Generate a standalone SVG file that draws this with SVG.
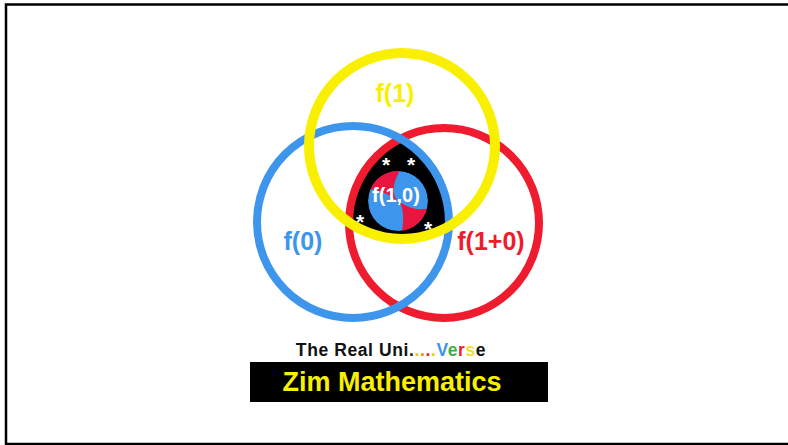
<svg xmlns="http://www.w3.org/2000/svg" width="788" height="445" viewBox="0 0 788 445">
<style>
.lbl{font-family:"Liberation Sans",Arial,sans-serif;font-weight:bold;}
.ring{fill:none;}
.star{font-family:"Liberation Sans",Arial,sans-serif;font-weight:bold;font-size:21px;fill:#fff;text-anchor:middle;}
</style>
<defs>
<clipPath id="cy"><circle cx="402" cy="146" r="95"/></clipPath>
<clipPath id="cb"><circle cx="353" cy="222" r="98"/></clipPath>
<clipPath id="cr"><circle cx="444" cy="223" r="97"/></clipPath>
<clipPath id="cin"><circle cx="398" cy="201" r="30"/></clipPath>
</defs>
<rect x="0" y="0" width="788" height="445" fill="#fff"/>
<rect x="6" y="4.5" width="790" height="439.5" fill="none" stroke="#000" stroke-width="2.5"/>

<g id="core">
<g clip-path="url(#cy)"><g clip-path="url(#cb)"><g clip-path="url(#cr)">
<rect x="300" y="100" width="200" height="200" fill="#000"/>
</g></g></g>
<g clip-path="url(#cin)">
<circle cx="398" cy="201" r="30" fill="#3d95ec"/>
<path d="M398,201 C392,195 392,185 399,172 L399,160 L350,160 L350,190 L368,190 C380,188 390,196 398,201 Z" fill="#e8153e"/>
<path d="M398,201 C404,207 404,218 402,231 L402,245 L445,245 L445,208 L429,208 C416,212 406,206 398,201 Z" fill="#e8153e"/>
</g>
</g>

<g id="circle-red"><circle class="ring" cx="444" cy="223" r="95" stroke="#ee1c2e" stroke-width="8"/></g>
<g id="circle-blue"><circle class="ring" cx="353" cy="222" r="96" stroke="#3d95ec" stroke-width="8"/></g>
<g id="circle-yellow"><circle class="ring" cx="402" cy="146" r="93" stroke="#f8f000" stroke-width="10"/></g>

<g id="stars">
<text class="star" x="386" y="172">*</text>
<text class="star" x="411" y="172">*</text>
<text class="star" x="360" y="229">*</text>
<text class="star" x="428" y="236">*</text>
</g>

<g id="labels">
<text class="lbl" x="396" y="202" font-size="20" fill="#fff" text-anchor="middle">f(1,0)</text>
<text class="lbl" x="395" y="102" font-size="25" fill="#f8f000" text-anchor="middle">f(1)</text>
<text class="lbl" x="303" y="250" font-size="25" fill="#3d95ec" text-anchor="middle">f(0)</text>
<text class="lbl" x="491" y="250" font-size="25" fill="#ee1c2e" text-anchor="middle">f(1+0)</text>
</g>

<g id="title">
<text class="lbl" x="391" y="356" font-size="17.5" letter-spacing="0.6" fill="#111" text-anchor="middle">The Real Uni<tspan fill="#222">.</tspan><tspan fill="#e0d000">.</tspan><tspan fill="#f08a00">.</tspan><tspan fill="#e82020">.</tspan><tspan fill="#e0d000">.</tspan><tspan fill="#3d95ec">V</tspan><tspan fill="#3cb043">e</tspan><tspan fill="#ee1c2e">r</tspan><tspan fill="#f0e030">s</tspan><tspan fill="#111">e</tspan></text>
</g>

<g id="banner">
<rect x="250" y="362" width="298" height="40" fill="#000"/>
<text class="lbl" x="392" y="391" font-size="27" fill="#f8f000" text-anchor="middle">Zim Mathematics</text>
</g>
</svg>
